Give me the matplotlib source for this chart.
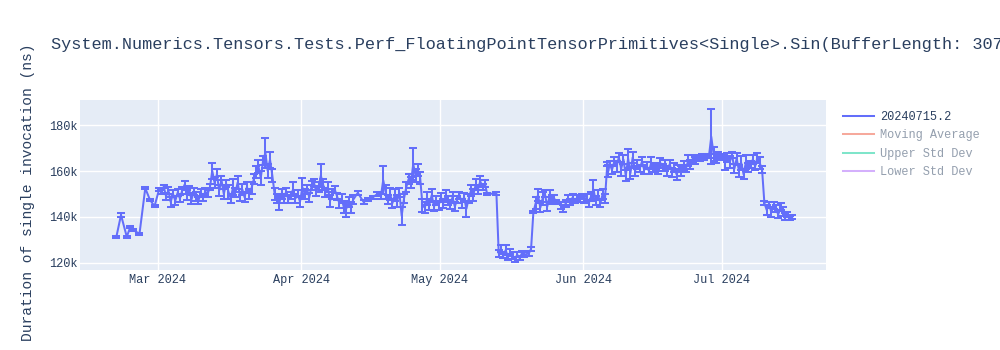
import numpy as np
import pandas as pd
import matplotlib
matplotlib.use("Agg")
import matplotlib.pyplot as plt
import matplotlib.dates as mdates
from matplotlib.lines import Line2D
from matplotlib.ticker import FuncFormatter

# run timestamps ("MM-DD HH", all 2024)
run_times = [
    "02-21 00", "02-22 00", "02-23 06", "02-24 00", "02-24 16", "02-26 00", "02-27 06", "02-28 06", "02-29 06",
    "03-01 06", "03-01 18", "03-02 06", "03-02 18", "03-03 06", "03-03 18", "03-04 06", "03-04 18",
    "03-05 06", "03-05 18", "03-06 06", "03-06 18", "03-07 06", "03-07 18", "03-08 06", "03-08 18",
    "03-09 06", "03-09 18", "03-10 06", "03-10 18", "03-11 06", "03-11 18", "03-12 06", "03-12 18",
    "03-13 06", "03-13 18", "03-14 06", "03-14 18", "03-15 06", "03-15 18", "03-16 06", "03-16 18",
    "03-17 06", "03-17 18", "03-18 06", "03-18 18", "03-19 06", "03-19 18", "03-20 06", "03-20 18",
    "03-21 06", "03-21 18", "03-22 06", "03-22 18", "03-23 06", "03-23 18", "03-24 06", "03-24 18",
    "03-25 06", "03-25 18", "03-26 06", "03-26 18", "03-27 06", "03-27 18", "03-28 06", "03-28 18",
    "03-29 06", "03-29 18", "03-30 06", "03-30 18", "03-31 06", "03-31 18",
    "04-01 06", "04-01 18", "04-02 06", "04-02 18", "04-03 06", "04-03 18", "04-04 06", "04-04 18",
    "04-05 06", "04-05 18", "04-06 06", "04-06 18", "04-07 06", "04-07 18", "04-08 06", "04-08 18",
    "04-09 06", "04-09 18", "04-10 06", "04-10 18", "04-11 06", "04-11 18", "04-12 06", "04-13 06",
    "04-14 12", "04-15 12", "04-16 12", "04-17 12", "04-18 06", "04-18 18", "04-19 06", "04-19 18",
    "04-20 06", "04-20 18", "04-21 06", "04-21 18", "04-22 06", "04-22 18", "04-23 06", "04-23 18",
    "04-24 06", "04-24 18", "04-25 06", "04-25 18", "04-26 06", "04-26 18", "04-27 06", "04-27 18",
    "04-28 06", "04-28 18", "04-29 06", "04-29 18", "04-30 06", "04-30 18",
    "05-01 06", "05-01 18", "05-02 06", "05-02 18", "05-03 06", "05-03 18", "05-04 06", "05-04 18",
    "05-05 06", "05-05 18", "05-06 06", "05-06 18", "05-07 06", "05-07 18", "05-08 06", "05-08 18",
    "05-09 06", "05-09 18", "05-10 06", "05-10 18", "05-11 06", "05-13 06", "05-13 18", "05-14 06",
    "05-14 18", "05-15 06", "05-15 18", "05-16 06", "05-16 18", "05-17 06", "05-17 18", "05-18 06",
    "05-18 18", "05-19 06", "05-20 06", "05-20 18", "05-21 06", "05-21 18", "05-22 06", "05-22 18",
    "05-23 06", "05-23 18", "05-24 06", "05-24 18", "05-25 06", "05-25 18", "05-26 06", "05-27 06",
    "05-27 18", "05-28 06", "05-28 18", "05-29 06", "05-29 18", "05-30 06", "05-30 18", "05-31 06",
    "05-31 18",
    "06-01 06", "06-01 18", "06-02 06", "06-02 18", "06-03 06", "06-03 18", "06-04 06", "06-04 18",
    "06-05 06", "06-05 18", "06-06 06", "06-06 12", "06-06 18", "06-07 06", "06-07 18", "06-08 06",
    "06-08 18", "06-09 06", "06-09 18", "06-10 06", "06-10 18", "06-11 06", "06-11 18", "06-12 06",
    "06-12 18", "06-13 06", "06-13 18", "06-14 06", "06-14 18", "06-15 06", "06-15 18", "06-16 06",
    "06-16 18", "06-17 06", "06-17 18", "06-18 06", "06-18 18", "06-19 06", "06-19 18", "06-20 06",
    "06-20 18", "06-21 06", "06-21 18", "06-22 06", "06-22 18", "06-23 06", "06-23 18", "06-24 06",
    "06-24 18", "06-25 06", "06-25 18", "06-26 06", "06-26 18", "06-27 06", "06-27 18", "06-28 06",
    "06-28 18", "06-29 06", "06-29 18", "06-30 06", "06-30 18",
    "07-01 06", "07-01 18", "07-02 06", "07-02 18", "07-03 06", "07-03 18", "07-04 06", "07-04 18",
    "07-05 06", "07-05 18", "07-06 06", "07-06 18", "07-07 06", "07-07 18", "07-08 06", "07-08 18",
    "07-09 06", "07-09 18", "07-10 06", "07-10 18", "07-11 06", "07-11 18", "07-12 06", "07-12 18",
    "07-13 06", "07-13 18", "07-14 06", "07-14 18", "07-15 06", "07-15 18", "07-16 06",
]

# mean duration (thousands of ns)
duration_k = [
    131.3, 140.8, 131.3, 135.5, 134.2, 132.6, 152.5, 147.5, 144.6,
    152.0, 150.8, 153.2, 149.0, 151.5, 146.5, 150.0, 147.0,
    150.5, 148.0, 151.5, 154.0, 149.5, 152.0, 147.5, 151.0,
    149.0, 147.0, 150.5, 148.5, 151.0, 150.0, 153.0, 160.0,
    155.0, 158.5, 151.5, 156.0, 150.0, 154.5, 151.0, 148.0,
    153.0, 150.5, 155.0, 149.0, 152.0, 148.5, 153.0, 150.0,
    152.5, 156.5, 159.5, 162.0, 157.0, 164.5, 168.0, 160.0,
    165.0, 158.0, 150.0, 148.0, 146.0, 150.0, 148.0, 151.0,
    147.5, 149.5, 152.0, 148.0, 150.0, 146.5,
    153.0, 150.0, 152.0, 148.5, 153.5, 155.0, 151.0, 153.0,
    158.0, 154.0, 150.5, 153.0, 147.0, 150.0, 152.0, 149.0,
    146.0, 148.0, 144.0, 143.5, 146.5, 144.0, 147.5, 150.5,
    146.5, 147.5, 148.5, 150.0, 149.0, 156.0, 151.0, 147.5,
    150.0, 146.0, 149.5, 147.0, 150.5, 140.5, 148.0, 153.0,
    156.5, 155.0, 163.0, 158.0, 160.5, 157.0, 145.0, 144.0,
    148.0, 145.5, 149.5, 144.5, 147.0, 145.0,
    148.5, 146.0, 149.0, 147.0, 145.5, 148.5, 144.5, 147.5,
    149.5, 146.0, 148.5, 143.5, 148.0, 151.5, 149.5, 154.0,
    152.0, 155.5, 153.0, 154.5, 150.0, 150.2, 124.0, 126.0,
    123.0, 125.5, 122.5, 124.5, 123.0, 121.5, 123.5, 122.0,
    124.0, 123.5, 124.0, 126.0, 142.0, 146.0, 149.5, 144.0,
    148.0, 150.0, 144.5, 149.0, 147.5, 148.0, 146.5, 145.0,
    143.5, 146.0, 148.0, 146.5, 148.5, 147.0, 148.5, 147.5,
    149.0,
    147.5, 148.5, 146.0, 149.0, 152.0, 147.0, 149.5, 146.0,
    150.0, 148.0, 163.0, 160.0, 163.5, 160.5, 164.0, 162.0,
    166.0, 161.0, 165.0, 158.0, 165.5, 159.0, 166.0, 160.0,
    163.0, 161.0, 164.0, 160.5, 162.5, 160.0, 163.5, 161.0,
    162.0, 160.5, 163.5, 161.5, 162.5, 160.0, 163.0, 159.5,
    161.5, 158.5, 161.0, 160.0, 162.5, 161.0, 164.5, 163.0,
    165.5, 164.5, 166.0, 165.5, 166.5, 166.0, 166.5, 166.5,
    175.0, 167.5, 165.5, 167.0, 166.0,
    166.5, 163.5, 166.0, 164.0, 167.0, 161.0, 165.5, 160.0,
    163.5, 158.5, 164.0, 161.5, 163.0, 165.0, 162.0, 166.0,
    163.5, 160.5, 146.0, 143.0, 145.5, 142.0, 145.0, 143.5,
    141.0, 144.5, 142.5, 140.0, 141.0, 139.5, 140.0,
]

# std dev of each run (thousands of ns)
std_k = [
    0.4, 0.8, 0.4, 0.4, 0.4, 0.4, 0.5, 0.4, 0.5,
    0.8, 1.0, 0.8, 1.5, 1.5, 2.0, 1.5, 2.0,
    1.5, 1.5, 1.5, 1.5, 2.0, 1.5, 2.0, 1.5,
    2.0, 1.5, 1.5, 1.5, 1.5, 1.5, 1.5, 3.5,
    2.5, 2.5, 2.5, 2.0, 2.0, 1.5, 3.0, 2.0,
    3.5, 2.0, 3.0, 2.0, 2.5, 2.0, 2.0, 2.0,
    2.5, 2.0, 2.5, 3.0, 3.0, 2.0, 6.5, 3.0,
    3.5, 3.0, 2.5, 2.0, 3.0, 2.0, 2.0, 1.5,
    1.5, 1.5, 3.0, 2.0, 1.5, 2.0,
    4.0, 2.0, 2.0, 2.0, 2.0, 1.5, 2.0, 2.0,
    5.0, 2.5, 2.0, 2.0, 2.5, 2.0, 1.5, 1.5,
    2.0, 2.0, 2.5, 3.5, 2.0, 2.5, 2.0, 0.8,
    0.8, 0.8, 0.8, 0.8, 1.0, 6.0, 3.0, 2.0,
    2.5, 2.0, 2.5, 2.5, 2.0, 4.0, 2.0, 2.0,
    2.0, 2.5, 7.0, 3.0, 2.5, 2.5, 3.0, 2.5,
    3.0, 2.5, 2.5, 2.0, 2.0, 2.0,
    2.0, 2.0, 2.5, 2.0, 2.0, 2.5, 2.0, 1.5,
    1.5, 2.0, 2.0, 3.5, 2.0, 2.5, 2.5, 2.5,
    2.0, 2.5, 1.5, 1.5, 0.5, 0.5, 1.5, 1.5,
    1.0, 2.0, 1.5, 1.5, 1.5, 1.0, 1.0, 1.0,
    1.0, 1.0, 1.0, 1.0, 0.5, 2.5, 2.5, 2.0,
    3.0, 1.5, 2.0, 2.5, 2.0, 1.5, 1.0, 1.5,
    1.5, 1.5, 1.5, 1.5, 1.5, 1.0, 1.0, 1.0,
    1.0,
    1.5, 1.5, 1.5, 2.0, 4.0, 2.0, 2.0, 1.5,
    2.0, 2.0, 1.0, 2.5, 1.0, 2.0, 2.0, 2.5,
    2.0, 3.0, 2.0, 2.5, 4.0, 2.5, 2.5, 2.0,
    2.0, 1.5, 2.0, 2.0, 1.5, 1.5, 2.5, 1.5,
    1.5, 2.0, 2.0, 1.5, 2.5, 2.0, 2.0, 2.0,
    2.0, 2.5, 1.5, 2.0, 2.0, 1.5, 2.5, 2.0,
    1.5, 1.5, 1.0, 1.0, 1.0, 1.0, 1.0, 1.0,
    12.0, 3.0, 2.0, 1.5, 1.0,
    1.0, 3.0, 2.0, 2.5, 1.5, 2.0, 2.5, 2.5,
    3.0, 2.0, 3.0, 2.0, 1.5, 2.0, 1.5, 2.0,
    2.5, 1.5, 1.0, 2.0, 1.0, 2.0, 1.5, 1.5,
    1.5, 1.5, 2.0, 1.5, 1.0, 1.0, 0.8,
]

series_name = "20240715.2"
hidden_series = ["Moving Average", "Upper Std Dev", "Lower Std Dev"]
title = "System.Numerics.Tensors.Tests.Perf_FloatingPointTensorPrimitives<Single>.Sin(BufferLength: 3079)"
y_label = "Duration of single invocation (ns)"

assert len(run_times) == len(duration_k) == len(std_k)

dates = pd.to_datetime(["2024-" + t for t in run_times], format="%Y-%m-%d %H")
values = np.array(duration_k) * 1000
errors = np.array(std_k) * 1000

plt.rcParams['font.family'] = ['Liberation Mono', 'DejaVu Sans Mono']
text_color = '#2a3f5f'
faded_text = '#949fae'

fig = plt.figure(figsize=(10, 3.5), dpi=100)
ax = fig.add_axes([0.08, 1 - 270 / 350, 0.746, 170 / 350])
ax.set_facecolor('#E5ECF6')

ax.errorbar(dates, values, yerr=errors, color='#636EFA', lw=1.45,
            capsize=2.9, capthick=1.45, elinewidth=1.45, zorder=3)

ax.set_xlim(pd.Timestamp("2024-02-13 03:00"), pd.Timestamp("2024-07-23 14:00"))
ax.set_ylim(116800, 191000)
ax.set_yticks([120000, 140000, 160000, 180000])
ax.yaxis.set_major_formatter(FuncFormatter(lambda v, p: f"{int(v / 1000)}k"))
ax.xaxis.set_major_locator(mdates.MonthLocator(bymonth=[3, 4, 5, 6, 7]))
ax.xaxis.set_major_formatter(mdates.DateFormatter("%b %Y"))

ax.grid(True, color='white', lw=1)
ax.set_axisbelow(True)
for s in ax.spines.values():
    s.set_visible(False)
ax.tick_params(axis='both', length=0, labelsize=8.6, labelcolor=text_color)
ax.tick_params(axis='x', pad=3)
ax.tick_params(axis='y', pad=2)

# the title runs past the right edge, as in the original
fig.text(0.051, 1 - 45 / 350, title, fontsize=12.2, color=text_color, va='center', ha='left')
fig.text(0.028, 1 - 192 / 350, y_label, fontsize=10.5, color=text_color,
         rotation=90, va='center', ha='center')

# legend: first trace visible, the rest hidden (legendonly)
handles = [Line2D([], [], color='#636EFA', lw=1.45)]
handles += [Line2D([], [], color=c, lw=1.45, alpha=0.5) for c in ['#EF553B', '#00CC96', '#AB63FA']]
leg = ax.legend(handles, [series_name] + hidden_series, loc='upper left',
                bbox_to_anchor=(0.838, 1 - 106 / 350), bbox_transform=fig.transFigure,
                frameon=False, fontsize=8.6, handlelength=2.6, handletextpad=0.5,
                labelspacing=0.55, borderaxespad=0)
for i, t in enumerate(leg.get_texts()):
    t.set_color(text_color if i == 0 else faded_text)

fig.savefig("out.png", dpi=100)
